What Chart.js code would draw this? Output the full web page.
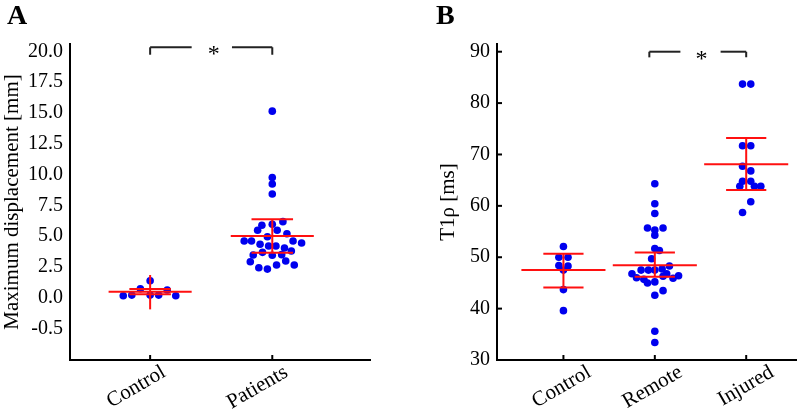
<!DOCTYPE html>
<html>
<head>
<meta charset="utf-8">
<script src="https://cdn.jsdelivr.net/npm/chart.js@4.4.0/dist/chart.umd.min.js"></script>
<style>
body { margin: 0; background: #fff; }
#wrap { display: flex; width: 800px; height: 410px; }
.panel { width: 400px; height: 410px; }
</style>
</head>
<body>
<div id="wrap">
  <div class="panel"><canvas id="chartA" width="400" height="410"></canvas></div>
  <div class="panel"><canvas id="chartB" width="400" height="410"></canvas></div>
</div>
<script>
// ---- panel A: maximum displacement ----
const aCategories = ["Control", "Patients"];
const aTickValues = [-2.5, 0, 2.5, 5, 7.5, 10, 12.5, 15, 17.5, 20];
const aTickLabels = ["-0.5", "0.0", "2.5", "5.0", "7.5", "10.0", "12.5", "15.0", "17.5", "20.0"];
const aControl = [0.16, 0.22, 0.73, 1.38, 0.22, 0.22, 0.63, 0.16];
const aControlJitter = [-0.22, -0.15, -0.08, 0, 0, 0.07, 0.14, 0.21];
const aPatients = [15.15, 9.76, 9.24, 8.43, 5.89, 5.97, 6.18, 5.48, 5.48, 5.2, 4.96, 4.61, 4.61, 4.61, 4.45,
    4.34, 4.2, 4.2, 4.04, 3.8, 3.69, 3.45, 3.5, 3.47, 2.93, 2.98, 2.66, 2.66, 2.44, 2.33];
const aPatientsJitter = [0, 0, 0, 0, -0.085, 0, 0.087, -0.12, 0.04, 0.12, -0.04, -0.23, -0.17, 0.17, 0.24,
    -0.1, -0.03, 0.03, 0.1, 0.156, -0.08, 0, 0.077, -0.156, -0.18, 0.11, 0.035, 0.18, -0.11, -0.04];
const aMean = [0.49, 5.02];
const aUpper = [0.71, 6.37];
const aLower = [0.28, 3.66];
const aStemTop = [1.85, 6.37];
const aStemBottom = [-0.94, 3.66];

// ---- panel B: T1rho ----
const bCategories = ["Control", "Remote", "Injured"];
const bTickValues = [30, 40, 50, 60, 70, 80, 90];
const bControl = [52.1, 50.0, 50.0, 48.4, 48.3, 47.5, 43.7, 39.6];
const bControlJitter = [0, -0.05, 0.05, -0.05, 0.05, 0, 0, 0];
const bRemote = [64.3, 60.4, 58.5, 55.7, 55.7, 55.3, 54.3, 51.7, 51.3, 49.7, 48.3, 47.5, 47.5, 47.5, 47.7,
    46.8, 46.8, 46.0, 45.7, 45.0, 45.2, 45.9, 46.4, 46.3, 42.6, 43.5, 35.6, 33.4];
const bRemoteJitter = [0, 0, 0, -0.08, 0.09, 0, 0, 0, 0.05, -0.035, 0.16, -0.15, -0.07, 0, 0.08,
    -0.25, 0.13, -0.2, -0.12, -0.08, 0, 0.2, 0.26, 0.09, 0, 0.09, 0, 0];
const bInjured = [83.7, 83.7, 71.7, 71.7, 67.7, 66.8, 64.8, 64.8, 63.8, 63.8, 63.8, 60.8, 58.7];
const bInjuredJitter = [-0.04, 0.05, -0.04, 0.05, -0.04, 0.05, -0.04, 0.05, -0.07, 0.09, 0.16, 0.05, -0.04];
const bMean = [47.5, 48.45, 68.1];
const bUpper = [50.7, 50.9, 73.2];
const bLower = [44.1, 46.2, 63.1];

const FONT = "'Liberation Serif', 'Times New Roman', serif";
const BLUE = "#0000ee";
const RED = "#ff1010";

function dots(values, jitter, center) {
    return {
        data: values.map((v, i) => ({ x: center + jitter[i], y: v })),
        backgroundColor: BLUE,
        borderWidth: 0,
        pointRadius: 3.8,
        showLine: false,
        order: 2
    };
}

function seg(x1, y1, x2, y2, color) {
    return {
        data: [{ x: x1, y: y1 }, { x: x2, y: y2 }],
        showLine: true,
        borderColor: color,
        borderWidth: 2,
        pointRadius: 0,
        clip: false,
        order: 1
    };
}

function errorBars(mean, upper, lower, stemTop, stemBottom, meanHalf, capHalf) {
    const out = [];
    mean.forEach((m, i) => {
        const c = i + 1;
        out.push(seg(c, stemBottom[i], c, stemTop[i], RED));
        out.push(seg(c - capHalf, upper[i], c + capHalf, upper[i], RED));
        out.push(seg(c - capHalf, lower[i], c + capHalf, lower[i], RED));
        out.push(seg(c - meanHalf, m, c + meanHalf, m, RED));
    });
    return out;
}

function bracket(x1, x2, gap1, gap2, top, drop) {
    return [
        seg(x1, drop, x1, top, "#222"),
        seg(x1, top, gap1, top, "#222"),
        seg(gap2, top, x2, top, "#222"),
        seg(x2, top, x2, drop, "#222")
    ];
}

const extras = {
    id: "extras",
    afterDraw(chart, args, opts) {
        const ctx = chart.ctx;
        const x = chart.scales.x, y = chart.scales.y;
        ctx.save();
        ctx.strokeStyle = "#000";
        ctx.lineWidth = 2;
        x.ticks.forEach(t => {
            const px = x.getPixelForValue(t.value);
            ctx.beginPath();
            ctx.moveTo(px, y.bottom);
            ctx.lineTo(px, y.bottom - 5);
            ctx.stroke();
        });
        if (opts.yTicks) {
            y.ticks.forEach(t => {
                const py = y.getPixelForValue(t.value);
                ctx.beginPath();
                ctx.moveTo(x.left, py);
                ctx.lineTo(x.left + 5, py);
                ctx.stroke();
            });
        }
        ctx.fillStyle = "#000";
        ctx.font = "bold 28px " + FONT;
        ctx.textAlign = "left";
        ctx.textBaseline = "alphabetic";
        ctx.fillText(opts.letter, opts.letterX, 24);
        ctx.font = "24px " + FONT;
        ctx.textAlign = "center";
        ctx.fillText("*", x.getPixelForValue(opts.starX), y.getPixelForValue(opts.starY) + 14);
        ctx.restore();
    }
};

function yAxis(min, max, ticks, labels, title, width) {
    return {
        type: "linear",
        min: min,
        max: max,
        afterBuildTicks: s => { s.ticks = ticks.map(v => ({ value: v })); },
        afterFit: s => { s.width = width; },
        grid: { display: true, drawOnChartArea: false, drawTicks: false },
        border: { color: "#000", width: 2 },
        ticks: {
            callback: (v, i) => labels[i],
            font: { family: FONT, size: 20 },
            color: "#000",
            padding: 7
        },
        title: { display: true, text: title, font: { family: FONT, size: 21 }, color: "#000", padding: 0 }
    };
}

function xAxis(min, max, categories, labelOffset) {
    return {
        type: "linear",
        min: min,
        max: max,
        afterBuildTicks: s => { s.ticks = categories.map((c, i) => ({ value: i + 1 })); },
        afterFit: s => { s.height = 50; },
        grid: { display: true, drawOnChartArea: false, drawTicks: false },
        border: { color: "#000", width: 2 },
        ticks: {
            callback: (v, i) => categories[i],
            autoSkip: false,
            minRotation: 30,
            maxRotation: 30,
            labelOffset: labelOffset,
            font: { family: FONT, size: 21 },
            color: "#000",
            padding: 0
        }
    };
}

new Chart(document.getElementById("chartA"), {
    type: "scatter",
    data: {
        datasets: [
            dots(aControl, aControlJitter, 1),
            dots(aPatients, aPatientsJitter, 2),
            ...errorBars(aMean, aUpper, aLower, aStemTop, aStemBottom, 0.34, 0.17),
            ...bracket(1, 2, 1.34, 1.67, 20.33, 19.73)
        ]
    },
    options: {
        responsive: false,
        animation: false,
        layout: { padding: { left: 0, right: 30, top: 44, bottom: 0 } },
        plugins: {
            legend: { display: false },
            tooltip: { enabled: false },
            extras: { letter: "A", letterX: 7, starX: 1.52, starY: 20.33, yTicks: false }
        },
        scales: {
            x: xAxis(0.344, 2.8, aCategories, 14),
            y: yAxis(-5.05, 20.6, aTickValues, aTickLabels, "Maximum displacement [mm]", 70)
        }
    },
    plugins: [extras]
});

new Chart(document.getElementById("chartB"), {
    type: "scatter",
    data: {
        datasets: [
            dots(bControl, bControlJitter, 1),
            dots(bRemote, bRemoteJitter, 2),
            dots(bInjured, bInjuredJitter, 3),
            ...errorBars(bMean, bUpper, bLower, bUpper, bLower, 0.46, 0.22),
            ...bracket(1.94, 3, 2.28, 2.72, 90, 88.9)
        ]
    },
    options: {
        responsive: false,
        animation: false,
        layout: { padding: { left: 36, right: 3, top: 44, bottom: 0 } },
        plugins: {
            legend: { display: false },
            tooltip: { enabled: false },
            extras: { letter: "B", letterX: 36, starX: 2.51, starY: 90, yTicks: true }
        },
        scales: {
            x: xAxis(0.273, 3.545, bCategories, 26),
            y: yAxis(30, 91.5, bTickValues, bTickValues.map(String), "T1\u03c1 [ms]", 61)
        }
    },
    plugins: [extras]
});
</script>
</body>
</html>
